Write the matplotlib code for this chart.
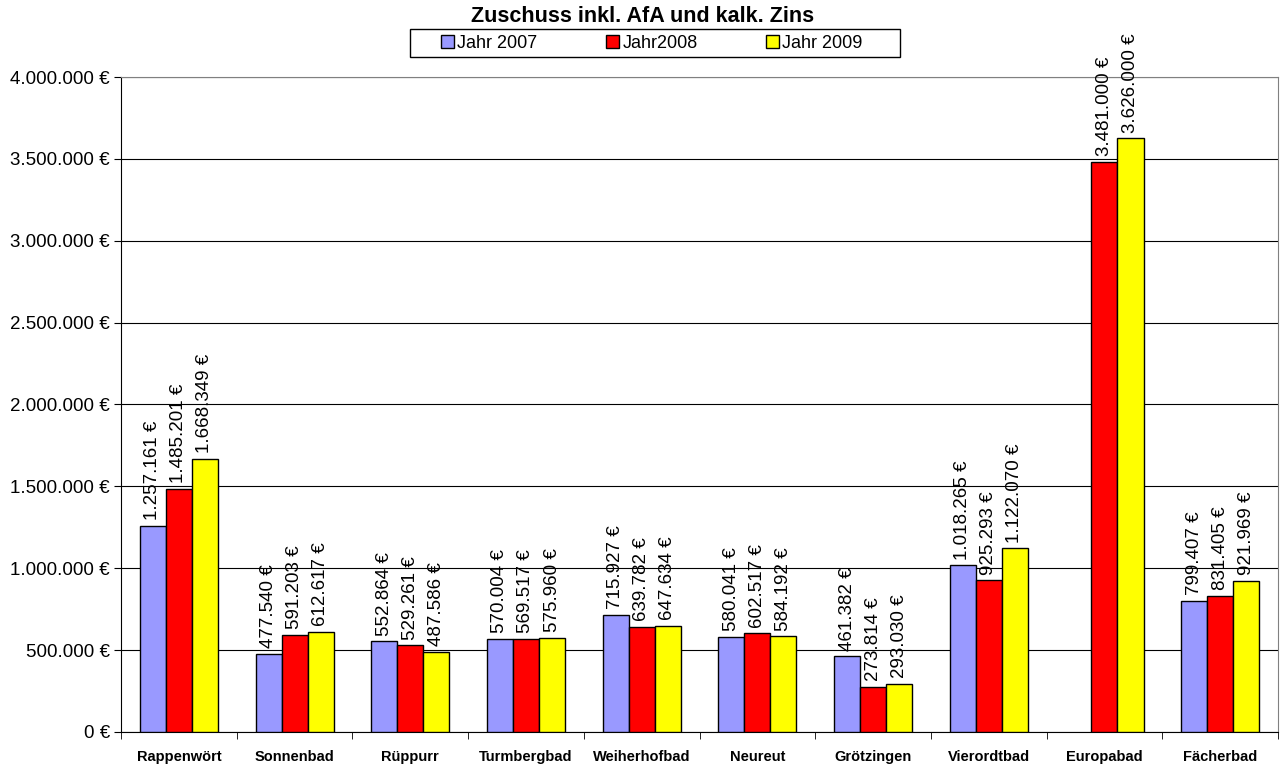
import matplotlib
matplotlib.use("Agg")
import matplotlib.pyplot as plt
from matplotlib.patches import Rectangle
import numpy as np

plt.rcParams['font.family'] = ['Liberation Sans', 'DejaVu Sans']

categories = ["Rappenwört", "Sonnenbad", "Rüppurr", "Turmbergbad", "Weiherhofbad",
              "Neureut", "Grötzingen", "Vierordtbad", "Europabad", "Fächerbad"]
jahr2007 = [1257161, 477540, 552864, 570004, 715927, 580041, 461382, 1018265, None, 799407]
jahr2008 = [1485201, 591203, 529261, 569517, 639782, 602517, 273814, 925293, 3481000, 831405]
jahr2009 = [1668349, 612617, 487586, 575960, 647634, 584192, 293030, 1122070, 3626000, 921969]
series_names = ["Jahr 2007", "Jahr2008", "Jahr 2009"]
colors = ["#9999FF", "#FF0000", "#FFFF00"]
yticks = [0, 500000, 1000000, 1500000, 2000000, 2500000, 3000000, 3500000, 4000000]

def fmt(v):
    return "{:,}".format(int(v)).replace(",", ".") + " €"

fig = plt.figure(figsize=(12.86, 7.64), dpi=100)
ax = fig.add_axes([0.0941, 0.0419, 0.8997, 0.8573])

x = np.arange(len(categories))
w = 0.225
series = [jahr2007, jahr2008, jahr2009]
handles = []
for i, (vals, col, name) in enumerate(zip(series, colors, series_names)):
    xs = x + (i - 1) * w
    v = np.array([np.nan if a is None else a for a in vals], dtype=float)
    bars = ax.bar(xs, v, width=w, color=col, edgecolor="black", linewidth=1.0, label=name, zorder=3)
    handles.append(bars)
    for xi, val in zip(xs, vals):
        if val is None:
            continue
        ax.text(xi, val + 35000, fmt(val), rotation=90, ha="center", va="bottom",
                fontsize=13.5, zorder=4)

ax.set_xlim(-0.5, len(categories) - 0.5)
ax.set_ylim(0, 4000000)
ax.set_yticks(yticks)
ax.set_yticklabels([fmt(t) for t in yticks], fontsize=13.5)
ax.yaxis.grid(True, color="black", linewidth=0.8, zorder=0)
ax.set_xticks(x)
ax.set_xticklabels(categories, fontsize=10.5, fontweight="bold")
ax.set_xticks(np.arange(len(categories) + 1) - 0.5, minor=True)
ax.tick_params(axis="x", which="major", length=0, pad=13)
ax.tick_params(axis="x", which="minor", length=5, direction="out")
ax.tick_params(axis="y", length=5, direction="out", pad=3)

for s in ["top", "right"]:
    ax.spines[s].set_color("#808080")
ax.spines["left"].set_color("black")
ax.spines["bottom"].set_color("black")

fig.text(0.5, 0.979, "Zuschuss inkl. AfA und kalk. Zins", ha="center", va="center",
         fontsize=15.5, fontweight="bold")

fig.patches.append(Rectangle((0.3188, 0.9254), 0.381, 0.0366, transform=fig.transFigure,
                             facecolor="white", edgecolor="black", linewidth=1.0, zorder=1))
leg = fig.legend(handles=handles, labels=series_names, loc="center",
                 bbox_to_anchor=(0.507, 0.9437), ncol=3, fontsize=13, frameon=False,
                 handlelength=0.7, handleheight=0.7,
                 handletextpad=0.2, columnspacing=3.8, borderpad=0.0)
leg.set_zorder(2)

fig.savefig("out.png", dpi=100)
